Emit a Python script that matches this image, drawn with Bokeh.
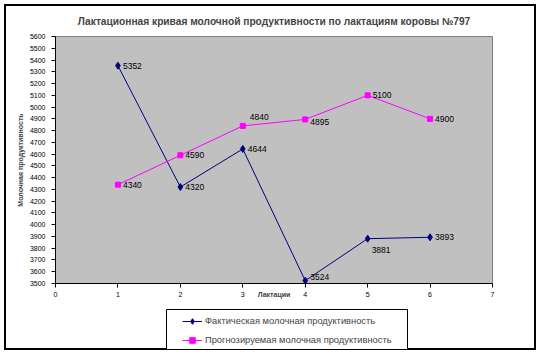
from bokeh.plotting import figure
from bokeh.layouts import column
from bokeh.models import (FixedTicker, Range1d, Legend, LegendItem, ColumnDataSource)
from bokeh.core.properties import value
from bokeh.embed import file_html
from bokeh.resources import INLINE

# ---- data ----
lactations = [1, 2, 3, 4, 5, 6]
actual = [5352, 4320, 4644, 3524, 3881, 3893]
forecast = [4340, 4590, 4840, 4895, 5100, 4900]
actual_name = "Фактическая молочная продуктивность"
forecast_name = "Прогнозируемая молочная продуктивность"
title_text = "Лактационная кривая молочной продуктивности по лактациям коровы №797"
x_title = "Лактации"
y_title = "Молочная продуктивность"
x_ticks = list(range(0, 8))
y_ticks = list(range(3500, 5601, 100))

# label offsets (px, screen: +y is down) for data labels
actual_dx = [5, 5, 5, 5, 4, 5]
actual_dy = [0, 0, 0, -4, 11, 0]
forecast_dx = [5, 5, 7, 5, 5, 5]
forecast_dy = [0, 0, -9, 3, 0, 0]

FONT = "Liberation Sans"
W = 540
H_MAIN, H_LEG = 309, 45
L, R, T, B = 55, 48, 36, 26

p = figure(width=W, height=H_MAIN, output_backend="svg", toolbar_location=None,
           x_range=Range1d(0, 7), y_range=Range1d(3500, 5600),
           min_border_left=L, min_border_right=R, min_border_top=T, min_border_bottom=B)
p.frame_align = False
p.background_fill_color = "#C0C0C0"
p.border_fill_alpha = 0
p.outline_line_color = "#808080"
p.outline_line_width = 1
p.xgrid.visible = False
p.ygrid.visible = False

p.title.text = title_text
p.title.align = "center"
p.title.text_font = FONT
p.title.text_font_size = "10.2px"
p.title.text_font_style = "bold"
p.title.standoff = 19

for ax in (p.xaxis[0], p.yaxis[0]):
    ax.axis_line_color = "black"
    ax.major_tick_line_color = "black"
    ax.major_tick_out = 4
    ax.major_tick_in = 0
    ax.minor_tick_line_color = None
    ax.major_label_text_font = FONT
    ax.major_label_text_font_size = "7px"
    ax.major_label_text_color = "black"
    ax.axis_label_text_font = FONT
    ax.axis_label_text_font_size = "7px"
    ax.axis_label_text_font_style = "bold"

p.xaxis.ticker = FixedTicker(ticks=x_ticks)
p.yaxis.ticker = FixedTicker(ticks=y_ticks)
p.xaxis.major_label_standoff = 4
p.yaxis.major_label_standoff = 6
p.yaxis.axis_label = y_title
p.yaxis.axis_label_standoff = 3
p.xaxis.axis_label = x_title
p.xaxis.axis_label_standoff = -9

src = ColumnDataSource(dict(x=lactations, a=actual, f=forecast,
                            at=[str(v) for v in actual], ft=[str(v) for v in forecast],
                            adx=actual_dx, ady=actual_dy, fdx=forecast_dx, fdy=forecast_dy))

ACT_C, FC_C = "#000080", "#FF00FF"

def draw_series(fig, s):
    la = fig.line("x", "a", source=s, line_color=ACT_C, line_width=1)
    ma = fig.scatter("x", "a", source=s, marker="diamond", size=7,
                     fill_color=ACT_C, line_color=ACT_C)
    lf = fig.line("x", "f", source=s, line_color=FC_C, line_width=1)
    mf = fig.scatter("x", "f", source=s, marker="square", size=5,
                     fill_color=FC_C, line_color=FC_C)
    return la, ma, lf, mf

draw_series(p, src)

p.text("x", "a", text="at", source=src, x_offset="adx", y_offset="ady",
       text_font=value(FONT), text_font_size="8.5px", text_baseline="middle",
       text_align="left", text_color="black")
p.text("x", "f", text="ft", source=src, x_offset="fdx", y_offset="fdy",
       text_font=value(FONT), text_font_size="8.5px", text_baseline="middle",
       text_align="left", text_color="black")

# ---- legend panel (its frame is the legend box) ----
q = figure(width=W, height=H_LEG, output_backend="svg", toolbar_location=None,
           x_range=Range1d(100, 101), y_range=Range1d(100, 101),
           x_axis_type=None, y_axis_type=None,
           min_border_left=166, min_border_right=W - 407,
           min_border_top=0, min_border_bottom=5)
q.frame_align = False
q.background_fill_color = "white"
q.border_fill_alpha = 0
q.outline_line_color = "black"
q.outline_line_width = 1
q.xgrid.visible = False
q.ygrid.visible = False
la2, ma2, lf2, mf2 = draw_series(q, src)

legend = Legend(items=[LegendItem(label=actual_name, renderers=[la2, ma2]),
                       LegendItem(label=forecast_name, renderers=[lf2, mf2])],
                location=(16, 2), padding=0, spacing=5, glyph_width=20,
                glyph_height=14, label_height=14, label_standoff=3,
                border_line_alpha=0, background_fill_alpha=0,
                label_text_font=FONT, label_text_font_size="9.3px",
                margin=0)
q.add_layout(legend)

layout = column(p, q, spacing=0,
                styles={"outline": "2px solid #000000", "outline-offset": "-6px"})

open("out.html", "w").write(file_html(layout, INLINE))
